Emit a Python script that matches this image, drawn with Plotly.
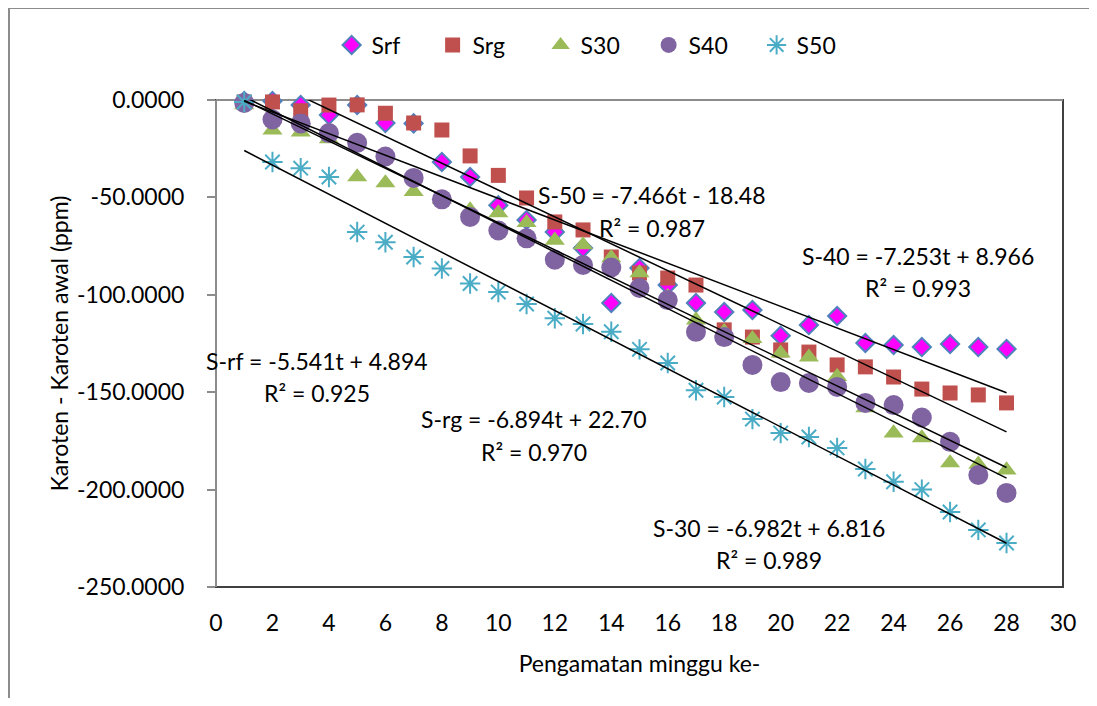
import plotly.graph_objects as go

weeks = list(range(1, 29))

srf = [-0.5, -0.5, -2.6, -7.7, -2.6, -11.8, -12.0, -31.8, -39.5, -54.0,
       -61.6, -67.8, -76.0, -104.2, -86.2, -95.0, -104.2, -108.8, -107.8, -121.0,
       -115.5, -110.9, -124.7, -125.8, -126.8, -125.3, -126.8, -127.8]
srg = [-1.0, -1.0, -5.5, -2.6, -2.5, -6.8, -11.8, -15.4, -28.7, -38.7,
       -50.3, -62.6, -66.7, -80.6, -88.8, -91.4, -95.0, -118.0, -121.7, -128.3,
       -129.4, -136.0, -137.0, -142.2, -148.4, -150.4, -151.4, -155.5]
s30 = [-2.5, -15.4, -16.5, -20.0, -39.5, -42.6, -47.0, -51.0, -56.5, -58.0,
       -63.0, -72.0, -74.4, -81.0, -88.8, -101.0, -113.0, -119.0, -122.5, -130.0,
       -132.0, -142.0, -158.0, -171.0, -173.5, -186.3, -187.0, -190.0]
s40 = [-1.5, -10.0, -12.0, -17.0, -22.0, -29.0, -40.0, -51.0, -60.0, -67.0,
       -71.0, -82.0, -84.7, -86.0, -96.5, -102.7, -119.0, -121.7, -136.0, -144.8,
       -145.3, -147.3, -155.5, -156.6, -163.0, -175.5, -192.5, -201.7]
s50 = [-1.0, -31.8, -35.0, -39.5, -67.8, -73.0, -80.6, -86.5, -94.2, -98.6,
       -104.7, -112.0, -115.0, -119.0, -128.0, -135.0, -149.0, -152.5, -163.8, -171.0,
       -173.0, -178.6, -189.4, -196.0, -200.0, -211.5, -220.7, -227.4]

series_names = ["Srf", "Srg", "S30", "S40", "S50"]

# trendline equations shown on the chart: y = slope * t + intercept
trend_labels = ["S-rf", "S-rg", "S-30", "S-40", "S-50"]
trend_slopes = [-5.541, -6.894, -6.982, -7.253, -7.466]
trend_intercepts = [4.894, 22.70, 6.816, 8.966, -18.48]
trend_r2 = ["0.925", "0.970", "0.989", "0.993", "0.987"]
trend_intercept_text = ["+ 4.894", "+ 22.70", "+ 6.816", "+ 8.966", "- 18.48"]

y_ticks = [0, -50, -100, -150, -200, -250]
x_ticks = list(range(0, 31, 2))

FONT = "Lato"
FS = 23

fig = go.Figure()

fig.add_trace(go.Scatter(
    x=weeks, y=srf, mode="markers", name=series_names[0], legendwidth=56,
    marker=dict(symbol="diamond", size=14, color="#FF00FF",
                line=dict(color="#4F81BD", width=2)),
    cliponaxis=False))
fig.add_trace(go.Scatter(
    x=weeks, y=srg, mode="markers", name=series_names[1], legendwidth=63,
    marker=dict(symbol="square", size=15, color="#C0504D",
                line=dict(width=0)),
    cliponaxis=False))
fig.add_trace(go.Scatter(
    x=weeks, y=s30, mode="markers", name=series_names[2], legendwidth=63,
    marker=dict(symbol="triangle-up", size=17.5, color="#9BBB59",
                line=dict(width=0)),
    cliponaxis=False))
fig.add_trace(go.Scatter(
    x=weeks, y=s40, mode="markers", name=series_names[3], legendwidth=63,
    marker=dict(symbol="circle", size=20, color="#8064A2",
                line=dict(width=0)),
    cliponaxis=False))
fig.add_trace(go.Scatter(
    x=weeks, y=s50, mode="markers", name=series_names[4], legendwidth=63,
    marker=dict(symbol="asterisk-open", size=17, color="#4BACC6",
                line=dict(color="#4BACC6", width=2)),
    cliponaxis=False))

x_first, x_last = weeks[0], weeks[-1]
for lab, m, b in zip(trend_labels, trend_slopes, trend_intercepts):
    fig.add_trace(go.Scatter(
        x=[x_first, x_last], y=[m * x_first + b, m * x_last + b],
        mode="lines", line=dict(color="black", width=1.5),
        showlegend=False, hoverinfo="skip", name=lab))

# annotation positions (data coords, centre of the two-line block)
ann_pos = {
    "S-rf": (3.58, -142.2),
    "S-rg": (11.26, -172.2),
    "S-30": (19.59, -227.9),
    "S-40": (24.87, -88.3),
    "S-50": (15.44, -57.2),
}
half_gap = 8.4
for lab, m, itxt, r2 in zip(trend_labels, trend_slopes, trend_intercept_text, trend_r2):
    ax, ay = ann_pos[lab]
    fig.add_annotation(x=ax, y=ay + half_gap, xref="x", yref="y",
                       text=f"{lab} = {m:.3f}t {itxt}",
                       showarrow=False, align="center",
                       font=dict(family=FONT, size=FS, color="black"))
    fig.add_annotation(x=ax, y=ay - half_gap, xref="x", yref="y",
                       text=f"R² = {r2}",
                       showarrow=False, align="center",
                       font=dict(family=FONT, size=FS, color="black"))

shapes = [
    # outer chart border
    dict(type="rect", xref="paper", yref="paper",
         x0=-0.2444, x1=1.2, y0=-0.4, y1=1.189,
         line=dict(color="#8C8C8C", width=2), layer="below"),
    # plot area border (bottom / right dark)
    dict(type="rect", xref="x domain", yref="y domain", x0=0, x1=1, y0=0, y1=1,
         line=dict(color="#404040", width=2), layer="below"),
    # horizontal axis line at y = 0 (top)
    dict(type="line", xref="x domain", yref="y domain", x0=0, x1=1, y0=1, y1=1,
         line=dict(color="#8C8C8C", width=2), layer="below"),
    # vertical axis line
    dict(type="line", xref="x domain", yref="y domain", x0=0, x1=0, y0=0, y1=1,
         line=dict(color="#8C8C8C", width=2), layer="below"),
]

fig.update_layout(
    width=1081, height=690,
    margin=dict(l=208, r=26, t=92, b=111),
    paper_bgcolor="white", plot_bgcolor="white",
    font=dict(family=FONT, size=FS, color="black"),
    shapes=shapes,
    showlegend=True,
    legend=dict(orientation="h", x=0.1365, xanchor="left", y=1.113, yanchor="middle",
                font=dict(family=FONT, size=FS), itemsizing="trace",
                entrywidthmode="pixels",
                bgcolor="rgba(0,0,0,0)"),
    xaxis=dict(range=[0, 30], tickvals=x_ticks, ticktext=[str(v) for v in x_ticks],
               showgrid=False, zeroline=False, showline=False, ticks="",
               ticklabelstandoff=20,
               title=dict(text="Pengamatan minggu ke-", standoff=20,
                          font=dict(family=FONT, size=FS))),
    yaxis=dict(range=[-250, 0], tickvals=y_ticks,
               ticktext=[f"{v:.4f}" for v in y_ticks],
               showgrid=False, zeroline=False, showline=False,
               ticks="outside", ticklen=8, tickcolor="#8C8C8C", tickwidth=2,
               ticklabelstandoff=18,
               title=dict(text="Karoten - Karoten awal (ppm)", standoff=1,
                          font=dict(family=FONT, size=FS))),
)

fig.write_html("out.html")
